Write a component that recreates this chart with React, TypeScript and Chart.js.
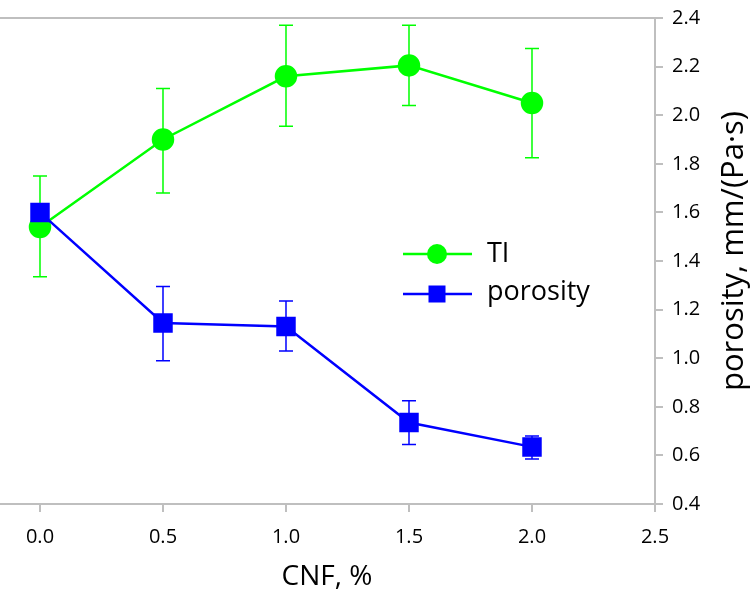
import React, { useEffect, useRef } from "react";
import { Chart, registerables } from "chart.js";

Chart.register(...registerables);

const cnf = [0.0, 0.5, 1.0, 1.5, 2.0];
const tiValues = [1.54, 1.90, 2.16, 2.205, 2.05];
const tiErrUp = [1.75, 2.11, 2.37, 2.37, 2.275];
const tiErrDown = [1.335, 1.68, 1.955, 2.04, 1.825];
const porosityValues = [1.60, 1.145, 1.13, 0.735, 0.635];
const porErrUp = [1.60, 1.295, 1.235, 0.825, 0.68];
const porErrDown = [1.60, 0.99, 1.03, 0.645, 0.585];
const xTicks = [0.0, 0.5, 1.0, 1.5, 2.0, 2.5];

const GREEN = "#00FF00";
const BLUE = "#0000FF";
const GRAY = "#BFBFBF";
const FONT = "'Open Sans', sans-serif";

export default function App() {
  const ref = useRef<HTMLCanvasElement | null>(null);

  useEffect(() => {
    const canvas = ref.current;
    if (!canvas) return;

    const errorBars = {
      id: "errorBars",
      beforeDatasetsDraw(chart: any) {
        const { ctx, scales } = chart;
        const xs = scales.x;
        const ys = scales.y;
        const draw = (up: number[], down: number[], color: string) => {
          ctx.save();
          ctx.strokeStyle = color;
          ctx.lineWidth = 1.5;
          for (let i = 0; i < cnf.length; i++) {
            const px = xs.getPixelForValue(cnf[i]);
            const pu = ys.getPixelForValue(up[i]);
            const pd = ys.getPixelForValue(down[i]);
            if (Math.abs(pu - pd) < 1) continue;
            ctx.beginPath();
            ctx.moveTo(px, pu);
            ctx.lineTo(px, pd);
            ctx.moveTo(px - 7, pu);
            ctx.lineTo(px + 7, pu);
            ctx.moveTo(px - 7, pd);
            ctx.lineTo(px + 7, pd);
            ctx.stroke();
          }
          ctx.restore();
        };
        draw(tiErrUp, tiErrDown, GREEN);
        draw(porErrUp, porErrDown, BLUE);
      },
    };

    const decor = {
      id: "decor",
      afterDraw(chart: any) {
        const { ctx, chartArea } = chart;
        ctx.save();
        // top border
        ctx.strokeStyle = GRAY;
        ctx.lineWidth = 2;
        ctx.beginPath();
        ctx.moveTo(chartArea.left, chartArea.top);
        ctx.lineTo(chartArea.right + 1, chartArea.top);
        ctx.stroke();

        // legend
        ctx.lineWidth = 2.5;
        ctx.strokeStyle = GREEN;
        ctx.beginPath();
        ctx.moveTo(403, 254);
        ctx.lineTo(472, 254);
        ctx.stroke();
        ctx.fillStyle = GREEN;
        ctx.beginPath();
        ctx.arc(437, 254, 10, 0, Math.PI * 2);
        ctx.fill();

        ctx.strokeStyle = BLUE;
        ctx.beginPath();
        ctx.moveTo(403, 294);
        ctx.lineTo(472, 294);
        ctx.stroke();
        ctx.fillStyle = BLUE;
        ctx.fillRect(437 - 8.5, 294 - 8.5, 17, 17);

        ctx.fillStyle = "#000";
        ctx.font = `27px ${FONT}`;
        ctx.textAlign = "left";
        ctx.textBaseline = "middle";
        ctx.fillText("TI", 487, 254);
        ctx.fillText("porosity", 487, 292);

        // x title
        ctx.font = `28px ${FONT}`;
        ctx.textAlign = "center";
        ctx.fillText("CNF, %", 327, 577);

        // y title
        ctx.font = `31px ${FONT}`;
        ctx.translate(734, 251);
        ctx.rotate(-Math.PI / 2);
        ctx.fillText("porosity, mm/(Pa·s)", 0, 0);
        ctx.restore();
      },
    };

    const chart = new Chart(canvas, {
      type: "line",
      data: {
        datasets: [
          {
            label: "porosity",
            data: cnf.map((x, i) => ({ x, y: porosityValues[i] })),
            borderColor: BLUE,
            backgroundColor: BLUE,
            pointBackgroundColor: BLUE,
            pointBorderColor: BLUE,
            pointStyle: "rect",
            pointRadius: 12,
            borderWidth: 2.5,
            order: 0,
            clip: false,
          },
          {
            label: "TI",
            data: cnf.map((x, i) => ({ x, y: tiValues[i] })),
            borderColor: GREEN,
            backgroundColor: GREEN,
            pointBackgroundColor: GREEN,
            pointBorderColor: GREEN,
            pointStyle: "circle",
            pointRadius: 10,
            borderWidth: 2.5,
            order: 1,
            clip: false,
          },
        ],
      },
      options: {
        animation: false,
        responsive: false,
        layout: { autoPadding: false, padding: { top: 18, left: 0, right: 0, bottom: 0 } },
        plugins: {
          legend: { display: false },
          tooltip: { enabled: false },
        },
        scales: {
          x: {
            type: "linear",
            min: -0.1626,
            max: 2.5,
            afterBuildTicks: (scale: any) => {
              scale.ticks = xTicks.map((v) => ({ value: v }));
            },
            afterFit: (scale: any) => {
              scale.height = 93;
              scale.paddingLeft = 0;
              scale.paddingRight = 0;
            },
            grid: {
              display: true,
              drawOnChartArea: false,
              drawTicks: true,
              tickLength: 8,
              color: GRAY,
              lineWidth: 2,
            },
            border: { display: true, color: GRAY, width: 2 },
            ticks: {
              color: "#000",
              font: { family: FONT, size: 20 },
              padding: 13,
              maxRotation: 0,
              autoSkip: false,
              callback: (v: any) => Number(v).toFixed(1),
            },
          },
          y: {
            type: "linear",
            position: "right",
            min: 0.4,
            max: 2.4,
            afterFit: (scale: any) => {
              scale.width = 96;
              scale.paddingTop = 0;
              scale.paddingBottom = 0;
            },
            grid: {
              display: true,
              drawOnChartArea: false,
              drawTicks: true,
              tickLength: 8,
              color: GRAY,
              lineWidth: 2,
            },
            border: { display: true, color: GRAY, width: 2 },
            ticks: {
              stepSize: 0.2,
              color: "#000",
              font: { family: FONT, size: 20 },
              padding: 9,
              callback: (v: any) => Number(v).toFixed(1),
            },
          },
        },
      },
      plugins: [errorBars, decor],
    });

    return () => chart.destroy();
  }, []);

  return (
    <div style={{ position: "absolute", left: 0, top: 0, width: 751, height: 597 }}>
      <canvas ref={ref} width={751} height={597} />
    </div>
  );
}
